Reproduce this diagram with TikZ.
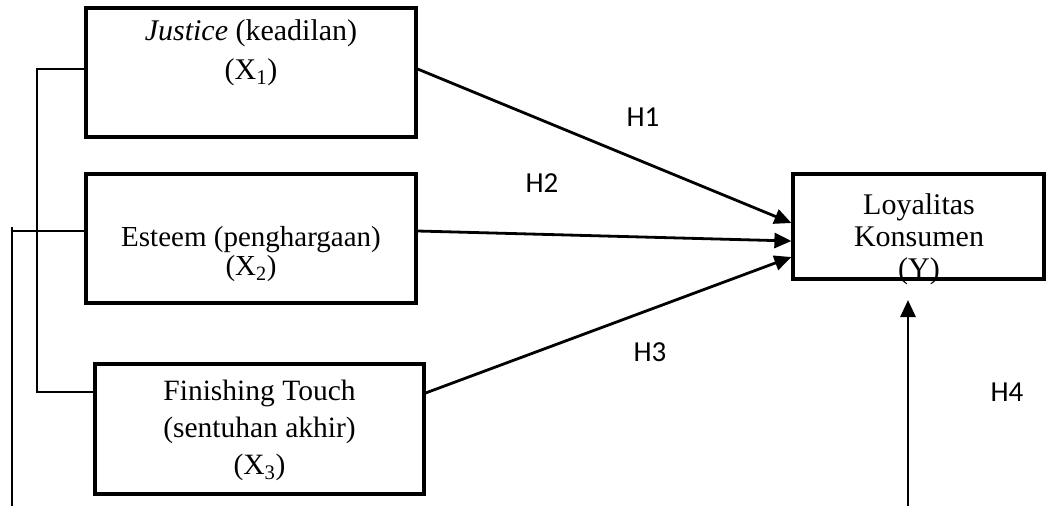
\documentclass[tikz,border=0pt]{standalone}
\usepackage{fontspec}
\setmainfont{Liberation Serif}
\newfontfamily\hfont{Carlito}
\usetikzlibrary{arrows.meta}

\begin{document}
\begin{tikzpicture}[x=1pt,y=-1pt,
  box/.style={draw,line width=3.2pt,inner sep=0pt},
  txt/.style={align=center,inner sep=0pt},
  link/.style={line width=2pt},
  arrow/.style={line width=2.8pt,-{Triangle[length=17pt,width=15pt]}},
  hyp/.style={font=\hfont\fontsize{29}{32}\selectfont,inner sep=0pt}]

% Picture size
\useasboundingbox (0,0) rectangle (1047,506);

% Variable boxes
\node[box,minimum width=330pt,minimum height=129pt] (x1) at (251,72.5) {};
\node[box,minimum width=330pt,minimum height=129pt] (x2) at (251,238.5) {};
\node[box,minimum width=329pt,minimum height=130pt] (x3) at (259.5,429) {};
\node[box,minimum width=251pt,minimum height=105pt] (y) at (918.5,226.5) {};

% Texts of the boxes
\node[txt,font=\fontsize{30}{39}\selectfont] (x1txt) at (251,52.5) {\textit{Justice} (keadilan)\\(X\textsubscript{1})};
\node[txt,font=\fontsize{29}{29}\selectfont] (x2txt) at (251,254.5) {Esteem (penghargaan)\\(X\textsubscript{2})};
\node[txt,font=\fontsize{29.5}{37}\selectfont] (x3txt) at (259.5,430) {Finishing Touch\\(sentuhan akhir)\\(X\textsubscript{3})};
\node[txt,font=\fontsize{30}{32}\selectfont] (ytxt) at (919,239) {Loyalitas\\Konsumen\\(Y)};

% Important positions
\coordinate (x1left) at ([yshift=3.5pt]x1.west);
\coordinate (x2left) at ([yshift=7.5pt]x2.west);
\coordinate (x3left) at ([yshift=37pt]x3.west);
\coordinate (busTop) at (37,69);
\coordinate (outerTop) at (12,227);
\coordinate (outerFoot) at (12,506);
\coordinate (h4foot) at (908,506);
\coordinate (h4head) at (908,300);

% Lines on the left
\draw[link] (x1left) -- (busTop) |- (x3left);
\draw[link] (outerTop) -- (outerFoot);
\draw[link] (x2left) -- (outerTop |- x2left);

% Hypothesis arrows
\draw[arrow] ([yshift=3.5pt]x1.east) -- ([yshift=3.5pt]y.west);
\draw[arrow] ([yshift=7.5pt]x2.east) -- ([yshift=-14.5pt]y.west);
\draw[arrow] ([yshift=36pt]x3.east) -- ([yshift=-30.5pt]y.west);
\draw[arrow] (h4foot) -- (h4head);

% Hypothesis labels
\node[hyp] (h1) at (643,117) {H1};
\node[hyp] (h2) at (542,183) {H2};
\node[hyp] (h3) at (650,352) {H3};
\node[hyp] (h4) at (1007,392) {H4};
\end{tikzpicture}
\end{document}
